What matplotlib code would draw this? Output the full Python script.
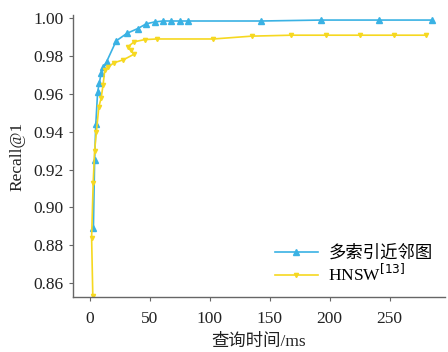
import matplotlib.pyplot as plt

plt.rcParams['font.family'] = ['Liberation Serif', 'Noto Sans CJK SC']
plt.rcParams['axes.unicode_minus'] = False

# 多索引近邻图
multi_x = [3, 4, 5, 6.5, 8, 9.5, 11, 14, 22, 31, 40, 47, 54, 61, 68, 75, 82, 143, 193, 241, 285]
multi_y = [0.889, 0.925, 0.944, 0.961, 0.966, 0.971, 0.974, 0.977, 0.988, 0.992, 0.9945, 0.997,
           0.998, 0.9985, 0.9985, 0.9985, 0.9985, 0.9985, 0.999, 0.999, 0.999]

# HNSW
hnsw_x = [2.5, 1.5, 2.8, 4, 5.5, 7.5, 9.5, 11, 12.5, 15, 20, 28, 37, 34, 32, 37, 46, 56, 103,
          135, 168, 197, 225, 254, 280]
hnsw_y = [0.853, 0.884, 0.913, 0.930, 0.940, 0.953, 0.958, 0.9645, 0.9725, 0.974, 0.9764, 0.978,
          0.981, 0.983, 0.985, 0.9875, 0.9887, 0.989, 0.989, 0.9905, 0.991, 0.991, 0.991, 0.991, 0.991]

fig = plt.figure(figsize=(4.48, 3.52), dpi=100)
ax = fig.add_axes([0.163, 0.156, 0.83, 0.801])

ax.plot(multi_x, multi_y, color='#3AB2E4', marker='^', markersize=5, linewidth=1.2,
        label='多索引近邻图')
ax.plot(hnsw_x, hnsw_y, color='#F6D820', marker='v', markersize=3, linewidth=1.2,
        label='HNSW$^{[13]}$')

ax.set_xlim(-14, 296)
ax.set_ylim(0.8526, 1.0016)
ax.set_xticks([0, 50, 100, 150, 200, 250])
ax.set_yticks([0.86, 0.88, 0.90, 0.92, 0.94, 0.96, 0.98, 1.00])
ax.set_yticklabels(['0.86', '0.88', '0.90', '0.92', '0.94', '0.96', '0.98', '1.00'])

for s in ['top', 'right']:
    ax.spines[s].set_visible(False)
for s in ['left', 'bottom']:
    ax.spines[s].set_color('#666666')
    ax.spines[s].set_linewidth(1.0)
ax.tick_params(colors='#666666', labelcolor='#222222', labelsize=12.5, length=3, width=0.8)
ax.tick_params(axis='x', pad=7)

ax.set_xlabel('查询时间/ms', fontsize=12.5, color='#222222', labelpad=5)
ax.set_ylabel('Recall@1', fontsize=12.5, color='#222222', labelpad=6)

ax.legend(loc='lower right', frameon=False, fontsize=12.5, handlelength=2.5,
          borderaxespad=0.3, labelspacing=0.1, handletextpad=0.6)

fig.savefig('out.png', dpi=100)
